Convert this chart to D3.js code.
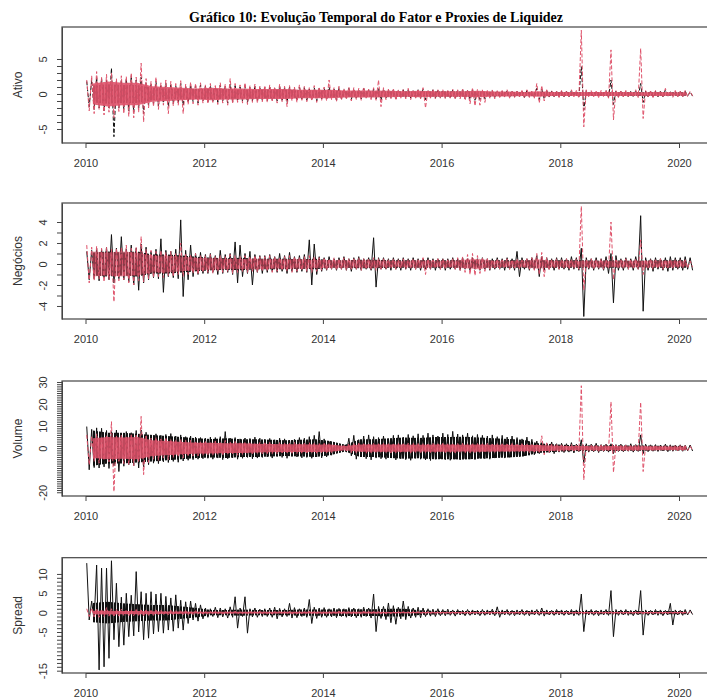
<!DOCTYPE html>
<html>
<head>
<meta charset="utf-8">
<script src="https://cdn.jsdelivr.net/npm/d3@7"></script>
<style>
body { margin: 0; background: #fff; }
svg text { font-family: "Liberation Sans", Arial, sans-serif; fill: #333; }
.title { font-family: "Liberation Serif", "Times New Roman", serif; font-weight: bold; fill: #000; }
</style>
</head>
<body>
<div id="chart"></div>
<script>
// monthly high / low readings, Jan 2010 .. Mar 2020 (123 months)
// quarterly half-width of the dense core, 2010Q1 .. 2020Q1 (41 quarters)
const startYear = 2010;
const xTicks = [2010, 2012, 2014, 2016, 2018, 2020];
const panelNames = ["Ativo", "Negócios", "Volume", "Spread"];

// Ativo
const ativoBlackHi = [1.8,2.0,2.4,2.2,2.0,3.7,1.8,2.0,2.2,2.6,2.0,2.4, 1.6,1.5,1.8,1.3,1.5,1.4,1.2,1.5,1.1,1.3,1.2,1.3, 1.1,1.2,1.0,1.3,1.1,1.4,1.2,1.0,1.2,1.0,1.1,0.9, 1.0,1.0,0.8,1.1,0.9,1.0,0.8,1.0,0.9,0.7,0.9,0.8, 0.8,1.0,0.7,0.9,0.6,0.8,0.7,0.6,0.8,0.6,0.7,0.8, 0.7,0.6,0.6,0.5,0.6,0.6,0.5,0.6,0.7,0.5,0.6,0.5, 0.5,0.4,0.6,0.5,0.6,0.5,0.6,0.5,0.5,0.4,0.5,0.4, 0.4,0.5,0.4,0.4,0.4,0.5,0.4,0.8,0.7,0.5,0.4,0.4, 0.4,0.4,0.5,0.4,3.9,0.5,0.4,0.4,0.4,0.5,2.0,0.4, 0.4,0.4,0.4,0.5,1.5,0.4,0.4,0.4,0.4,0.6,0.4,0.4, 0.4,0.4,0.3];
const ativoBlackLo = [-1.8,-2.2,-2.0,-2.4,-2.0,-6.1,-2.0,-2.2,-2.4,-2.6,-2.0,-2.8, -1.6,-1.4,-1.7,-1.3,-1.8,-1.4,-1.3,-1.6,-1.2,-1.1,-1.3,-1.0, -1.1,-1.0,-1.2,-1.0,-1.3,-1.1,-1.0,-1.0,-1.2,-1.0,-1.0,-0.9, -1.0,-0.8,-1.0,-0.9,-1.2,-0.8,-1.0,-0.7,-0.9,-0.8,-1.0,-0.7, -0.8,-0.6,-0.9,-0.7,-0.6,-0.8,-0.6,-0.7,-0.6,-0.6,-0.7,-0.9, -0.6,-0.5,-0.7,-0.5,-0.6,-0.6,-0.5,-0.6,-0.8,-0.5,-0.6,-0.5, -0.5,-0.5,-0.6,-0.5,-0.7,-0.8,-0.9,-0.8,-0.7,-0.5,-0.5,-0.4, -0.4,-0.5,-0.4,-0.4,-0.5,-0.4,-0.5,-0.8,-0.7,-0.4,-0.4,-0.4, -0.4,-0.4,-0.4,-0.5,-2.3,-0.4,-0.4,-0.4,-0.4,-0.5,-1.5,-0.4, -0.4,-0.4,-0.4,-0.4,-1.2,-0.4,-0.4,-0.4,-0.4,-0.4,-0.4,-0.4, -0.4,-0.3,-0.3];
const ativoRedHi = [2.0,2.6,3.2,2.4,2.8,3.0,2.2,2.6,2.5,3.0,2.4,4.4, 2.2,1.8,2.4,1.6,2.0,1.8,1.5,1.9,1.4,1.7,1.5,1.6, 1.3,1.5,1.2,1.6,1.4,2.2,1.5,1.3,1.6,1.2,1.4,1.1, 1.2,1.3,1.0,1.4,1.1,1.2,1.0,1.3,1.1,0.9,1.2,1.0, 1.0,2.0,0.9,1.1,0.8,1.0,0.9,0.8,1.0,0.7,0.9,2.0, 0.9,0.7,0.8,0.6,0.7,0.8,0.6,0.7,0.9,0.6,0.7,0.6, 0.6,0.5,0.7,0.6,0.8,0.6,0.9,0.7,0.6,0.5,0.6,0.5, 0.5,0.6,0.5,0.4,0.5,0.6,0.5,1.5,1.2,0.6,0.5,0.4, 0.5,0.4,0.6,0.5,9.1,0.6,0.5,0.4,0.5,0.6,6.3,0.5, 0.4,0.5,0.4,0.6,6.5,0.5,0.4,0.5,0.4,0.8,0.4,0.5, 0.4,0.5,0.4];
const ativoRedLo = [-2.4,-2.8,-2.2,-3.0,-2.6,-3.4,-2.5,-2.8,-3.2,-3.4,-2.6,-4.0, -2.0,-1.8,-2.2,-1.6,-2.8,-1.7,-1.6,-2.8,-1.5,-1.4,-1.6,-1.3, -1.4,-1.2,-1.5,-1.3,-1.6,-1.4,-1.2,-1.3,-1.5,-1.2,-1.3,-1.1, -1.2,-1.0,-1.3,-1.1,-1.8,-1.0,-1.2,-0.9,-1.1,-1.0,-1.2,-0.9, -1.0,-0.8,-1.1,-0.9,-0.8,-1.0,-0.8,-0.9,-0.7,-0.8,-0.9,-1.8, -0.8,-0.7,-0.9,-0.6,-0.7,-0.8,-0.6,-0.7,-2.0,-0.6,-0.7,-0.6, -0.7,-0.6,-0.8,-0.7,-0.9,-1.4,-1.7,-1.6,-1.2,-0.6,-0.7,-0.5, -0.5,-0.6,-0.5,-0.4,-0.6,-0.5,-0.6,-1.3,-1.0,-0.5,-0.4,-0.5, -0.4,-0.5,-0.4,-0.6,-4.7,-0.5,-0.4,-0.5,-0.4,-0.6,-3.7,-0.5, -0.4,-0.5,-0.4,-0.5,-3.5,-0.4,-0.5,-0.4,-0.5,-0.4,-0.5,-0.4, -0.4,-0.4,-0.3];
const ativoBlackCore = [1.2,1.4,1.3,1.3, 0.9,0.8,0.7,0.7, 0.7,0.7,0.6,0.6, 0.6,0.6,0.5,0.5, 0.5,0.4,0.4,0.4, 0.4,0.35,0.35,0.35, 0.35,0.35,0.35,0.3, 0.3,0.3,0.3,0.3, 0.3,0.3,0.3,0.3, 0.3,0.25,0.25,0.25, 0.25];
const ativoRedCore = [1.5,1.8,1.6,1.6, 1.1,1.0,0.9,0.8, 0.9,0.8,0.8,0.7, 0.7,0.7,0.6,0.6, 0.6,0.5,0.5,0.5, 0.45,0.4,0.45,0.4, 0.4,0.4,0.45,0.35, 0.35,0.3,0.4,0.3, 0.3,0.3,0.3,0.3, 0.3,0.25,0.3,0.25, 0.25];

// Negócios
const negBlackHi = [1.2,1.3,1.5,1.4,1.6,2.8,1.5,2.6,1.4,1.8,1.5,1.9, 1.6,1.2,1.4,2.4,1.3,1.2,1.4,4.2,1.3,1.8,1.0,1.1, 0.9,1.0,0.8,1.3,0.9,1.0,2.1,1.8,1.0,1.2,0.9,0.8, 0.8,0.9,0.7,1.0,0.8,1.1,0.7,0.8,0.9,2.3,1.9,0.7, 0.6,0.7,0.5,0.6,0.7,0.5,0.6,0.7,0.5,0.6,2.5,0.6, 0.6,0.5,0.6,0.5,0.6,0.5,0.6,0.5,0.5,0.6,0.5,0.5, 0.5,0.5,0.6,0.5,0.6,0.5,0.6,0.5,0.6,0.5,0.5,0.6, 0.5,0.6,0.5,1.2,0.6,0.5,0.6,0.8,0.7,0.6,0.5,0.6, 0.6,0.5,0.7,0.6,1.5,0.6,0.5,0.6,0.5,0.7,1.0,0.8, 0.5,0.6,0.5,0.7,4.6,0.6,0.5,0.6,0.5,0.6,0.7,0.6, 0.6,0.7,0.6];
const negBlackLo = [-1.5,-1.4,-1.6,-1.3,-1.5,-1.8,-1.4,-1.5,-1.7,-2.0,-2.5,-1.8, -1.5,-1.3,-1.4,-2.7,-1.2,-1.3,-1.4,-3.1,-1.5,-1.2,-1.0,-0.9, -0.9,-0.8,-1.0,-0.9,-0.8,-1.0,-1.8,-1.2,-0.9,-2.0,-0.8,-0.9, -0.8,-0.7,-0.8,-0.7,-0.9,-0.7,-0.8,-0.7,-0.8,-2.0,-1.0,-0.7, -0.6,-0.5,-0.6,-0.5,-0.6,-0.7,-0.5,-0.6,-0.5,-0.6,-2.2,-0.5, -0.5,-0.6,-0.5,-0.6,-0.5,-0.6,-0.5,-0.6,-0.5,-0.5,-0.6,-0.5, -0.6,-0.5,-0.5,-0.6,-0.5,-0.6,-0.5,-0.6,-0.5,-0.6,-0.5,-0.5, -0.6,-0.5,-0.6,-1.2,-0.5,-0.6,-0.5,-1.2,-0.6,-0.5,-0.6,-0.5, -0.5,-0.6,-0.5,-0.6,-5.0,-0.5,-0.6,-0.5,-0.6,-0.9,-3.7,-0.6, -0.6,-0.5,-0.6,-0.5,-4.5,-0.6,-0.7,-0.5,-0.6,-0.7,-0.6,-0.5, -0.6,-0.5,-0.6];
const negRedHi = [1.8,1.6,1.7,1.5,1.6,1.4,1.5,1.6,1.8,1.5,1.6,2.6, 1.4,1.3,1.2,1.3,1.1,1.2,1.0,2.0,1.0,0.9,1.0,0.8, 0.8,0.9,0.7,0.8,0.7,0.9,0.8,0.7,0.8,0.7,0.8,0.7, 0.7,0.8,0.7,0.6,0.7,0.8,0.7,0.6,0.7,0.8,0.7,0.6, 0.6,0.5,0.6,0.5,0.6,0.5,0.5,0.6,0.5,0.5,0.6,0.5, 0.5,0.4,0.5,0.4,0.5,0.4,0.5,0.4,0.6,0.5,0.4,0.5, 0.5,0.4,0.5,0.6,0.7,0.9,1.0,0.8,0.6,0.5,0.4,0.5, 0.4,0.5,0.4,0.5,0.4,0.5,0.6,1.0,1.1,0.6,0.4,0.5, 0.4,0.5,0.4,0.5,5.5,0.4,0.5,0.4,0.5,0.4,4.0,0.4, 0.4,0.5,0.4,0.5,2.3,0.4,0.5,0.4,0.5,0.4,0.4,0.4, 0.4,0.4,0.3];
const negRedLo = [-1.8,-1.6,-1.4,-1.7,-1.5,-3.6,-1.6,-1.5,-1.8,-2.0,-1.6,-1.7, -1.4,-1.3,-1.2,-1.3,-1.1,-1.2,-1.0,-1.2,-1.0,-0.9,-1.0,-0.8, -0.8,-0.9,-0.7,-0.8,-0.7,-0.9,-0.8,-0.7,-0.8,-0.7,-0.8,-0.7, -0.7,-0.8,-0.7,-0.6,-0.7,-0.8,-0.7,-0.6,-0.7,-0.8,-0.7,-0.6, -0.6,-0.5,-0.6,-0.5,-0.6,-0.5,-0.5,-0.6,-0.5,-0.5,-0.6,-0.5, -0.5,-0.4,-0.5,-0.4,-0.5,-0.4,-0.5,-0.4,-1.0,-0.5,-0.4,-0.5, -0.5,-0.4,-0.5,-0.6,-0.8,-1.0,-1.1,-0.9,-0.7,-0.5,-0.4,-0.5, -0.4,-0.5,-0.4,-0.5,-0.4,-0.5,-0.6,-1.0,-1.2,-0.6,-0.4,-0.5, -0.4,-0.5,-0.4,-0.5,-2.5,-0.4,-0.5,-0.4,-0.5,-0.4,-1.5,-0.4, -0.4,-0.5,-0.4,-0.5,-1.0,-0.4,-0.5,-0.4,-0.5,-0.4,-0.4,-0.4, -0.4,-0.4,-0.3];
const negBlackCore = [1.1,1.2,1.1,1.2, 0.9,0.9,0.8,0.7, 0.6,0.55,0.6,0.5, 0.5,0.5,0.45,0.5, 0.35,0.35,0.4,0.4, 0.35,0.35,0.35,0.35, 0.35,0.35,0.35,0.35, 0.35,0.35,0.35,0.35, 0.35,0.35,0.3,0.35, 0.3,0.3,0.35,0.35, 0.35];
const negRedCore = [1.2,1.1,1.2,1.1, 0.8,0.8,0.7,0.6, 0.55,0.5,0.5,0.5, 0.45,0.45,0.45,0.4, 0.35,0.35,0.35,0.35, 0.3,0.3,0.35,0.3, 0.3,0.4,0.5,0.3, 0.3,0.3,0.45,0.3, 0.3,0.3,0.3,0.3, 0.3,0.3,0.3,0.3, 0.25];

// Volume
const volBlackHi = [9.8,8.5,9.2,9.0,8.0,7.5,8.2,6.8,7.5,7.0,8.0,8.2, 7.2,6.0,6.5,5.8,6.2,6.6,5.5,6.0,5.2,5.5,5.0,4.8, 4.5,5.0,4.8,5.2,7.5,4.6,4.8,4.2,4.6,4.4,5.0,4.5, 4.0,4.4,3.8,4.5,4.2,3.6,4.0,4.8,4.5,5.2,5.8,7.5, 4.2,3.0,2.2,1.2,1.5,4.5,5.8,3.8,5.5,6.0,5.2,4.8, 5.5,4.2,5.8,6.0,5.0,6.2,5.6,6.5,5.8,6.8,6.0,5.5, 6.8,6.2,7.6,6.4,6.0,6.8,5.6,6.2,5.8,5.5,6.0,5.2, 5.8,5.0,5.5,4.8,4.2,5.0,4.0,3.2,2.5,2.2,2.8,2.0, 2.2,2.0,2.5,1.8,3.8,2.0,1.8,2.2,1.6,1.8,2.0,1.6, 1.8,1.5,2.0,1.6,6.0,1.8,1.5,1.6,1.4,1.8,1.5,1.4, 1.5,1.3,1.4];
const volBlackLo = [-9.8,-8.8,-9.0,-8.5,-9.2,-8.0,-10.6,-8.2,-7.5,-8.0,-9.0,-8.5, -7.5,-6.8,-7.0,-6.2,-6.5,-6.0,-6.4,-5.8,-5.5,-5.2,-5.0,-4.8, -4.6,-5.0,-4.5,-5.2,-4.8,-4.4,-5.0,-4.6,-4.2,-4.8,-4.5,-4.2, -4.0,-4.5,-3.8,-4.2,-4.6,-3.8,-4.0,-4.4,-4.2,-4.6,-4.0,-4.4, -4.0,-3.2,-2.0,-1.2,-1.8,-3.5,-5.0,-3.2,-4.8,-5.3,-4.5,-4.8, -5.0,-4.0,-5.3,-4.8,-5.2,-5.5,-4.6,-5.0,-5.3,-5.6,-5.0,-4.8, -5.2,-5.5,-5.0,-5.3,-4.8,-5.0,-5.2,-4.6,-4.8,-5.0,-4.5,-4.2, -4.5,-4.2,-4.0,-3.8,-3.5,-3.2,-3.0,-2.5,-2.2,-2.0,-2.5,-1.8, -2.0,-1.8,-2.2,-1.6,-6.8,-1.8,-1.6,-2.0,-1.5,-1.8,-2.5,-1.5, -1.6,-1.4,-1.8,-1.5,-2.5,-1.6,-1.4,-1.5,-1.3,-1.6,-1.4,-1.3, -1.4,-1.2,-1.3];
const volRedHi = [6.0,5.5,6.5,5.0,5.8,12.0,5.5,6.0,5.2,6.5,5.8,14.4, 6.0,4.5,5.0,4.2,4.8,4.0,3.8,4.2,3.5,3.6,3.2,3.0, 3.0,2.8,3.2,2.6,3.5,2.8,3.0,2.5,2.8,2.6,2.4,2.6, 2.4,2.6,2.2,2.5,2.3,2.2,2.6,2.4,2.2,2.5,2.3,2.1, 2.2,2.0,1.5,1.0,1.2,2.0,2.4,2.2,2.0,2.3,2.1,2.0, 2.2,2.0,2.3,2.1,2.0,2.2,2.4,2.1,2.0,2.2,2.3,2.0, 2.2,2.0,2.3,2.1,2.2,2.0,2.4,2.1,2.0,2.2,1.9,2.0, 2.0,1.9,2.1,1.8,2.0,1.9,1.8,2.0,5.6,2.4,1.8,1.6, 1.5,1.4,1.6,1.4,28.3,1.5,1.4,1.3,1.4,1.5,21.0,1.4, 1.3,1.4,1.2,1.4,20.8,1.3,1.2,1.4,1.2,1.3,1.2,1.1, 1.2,1.1,1.0];
const volRedLo = [-7.5,-6.0,-6.8,-5.5,-6.2,-19.7,-6.0,-7.0,-7.5,-8.0,-6.5,-12.0, -6.5,-5.0,-5.5,-4.5,-5.2,-4.2,-4.0,-4.5,-3.8,-3.6,-3.5,-3.2, -3.0,-3.2,-2.8,-3.4,-3.0,-2.6,-3.2,-2.8,-2.6,-3.0,-2.5,-2.6, -2.5,-2.4,-2.6,-2.2,-2.5,-2.3,-2.4,-2.6,-2.2,-2.4,-2.3,-2.2, -2.2,-2.0,-1.5,-1.0,-1.3,-2.0,-2.2,-2.0,-2.3,-2.1,-2.0,-2.2, -2.0,-2.2,-2.1,-2.3,-2.0,-2.2,-2.0,-2.4,-2.1,-2.0,-2.2,-2.0, -2.1,-2.0,-2.2,-2.0,-2.3,-2.1,-2.0,-2.2,-2.0,-1.9,-2.0,-1.8, -1.9,-2.0,-1.8,-1.9,-1.8,-2.0,-1.8,-1.9,-3.0,-2.0,-1.6,-1.5, -1.4,-1.5,-1.3,-1.4,-14.4,-1.4,-1.3,-1.4,-1.3,-1.4,-11.0,-1.3, -1.2,-1.3,-1.2,-1.3,-10.6,-1.2,-1.3,-1.2,-1.1,-1.2,-1.1,-1.2, -1.1,-1.0,-1.0];
const volBlackCore = [8,7,7,6.5, 6,5.5,5,4.5, 4.2,4.5,4,4, 3.8,3.6,3.8,4, 3.2,1.5,4,4, 4.5,4.8,4.6,5, 5,5.2,4.8,4.5, 4.2,3.8,2.2,1.8, 1.4,1.3,1.2,1.3, 1.2,1.2,1.1,1.1, 1.0];
const volRedCore = [4.5,5,4.8,5, 3.6,3.2,2.8,2.5, 2.4,2.2,2.2,2.0, 1.9,1.8,1.8,1.7, 1.6,1.0,1.6,1.6, 1.6,1.6,1.5,1.6, 1.6,1.5,1.6,1.5, 1.5,1.4,1.4,1.2, 1.0,1.0,0.9,1.0, 0.9,0.9,0.9,0.8, 0.8];

// Spread
const sprBlackHi = [12.8,3.0,12.3,11.5,11.5,13.4,7.6,4.0,5.0,4.5,10.6,5.4, 5.0,5.4,4.8,5.0,4.2,3.8,4.6,3.2,2.8,3.0,2.4,2.0, 1.2,1.0,1.4,1.2,1.0,1.5,4.1,1.2,4.1,1.0,1.2,0.9, 1.0,1.2,1.4,1.1,1.0,2.4,1.3,1.0,1.2,3.4,1.4,1.2, 1.3,1.0,1.2,1.1,1.0,1.3,1.2,1.0,1.4,1.2,4.8,1.6, 1.6,2.5,1.8,1.4,3.0,1.6,1.2,1.4,1.2,1.0,0.9,1.0, 0.8,0.9,0.7,0.8,0.6,0.8,0.7,0.6,0.8,0.7,0.9,1.5, 0.7,0.8,0.6,0.7,0.8,0.6,0.7,0.8,1.2,0.7,0.6,0.8, 0.7,0.6,0.8,0.7,4.8,0.7,0.8,0.6,0.7,0.8,5.7,0.8, 0.7,0.8,0.6,0.7,5.7,0.7,0.6,0.8,0.7,0.6,2.4,0.7, 0.6,0.8,0.7];
const sprBlackLo = [-1.9,-2.0,-14.8,-14.0,-11.8,-7.0,-8.8,-8.4,-6.2,-6.0,-5.0,-7.0, -6.6,-5.5,-4.9,-5.3,-4.5,-4.8,-4.0,-4.5,-2.8,-1.9,-2.2,-1.6, -1.2,-1.0,-1.3,-1.1,-1.4,-1.2,-4.0,-1.0,-5.3,-1.1,-1.2,-1.0, -1.0,-1.2,-1.6,-1.1,-1.0,-1.4,-1.3,-1.0,-1.2,-2.8,-1.5,-1.2, -1.2,-1.1,-1.3,-1.0,-1.2,-1.1,-1.3,-1.2,-1.0,-1.4,-4.9,-1.5, -1.8,-2.6,-3.0,-1.6,-1.8,-1.4,-1.2,-1.3,-1.0,-0.9,-1.0,-0.8, -0.8,-0.7,-0.9,-0.6,-0.8,-0.7,-0.6,-0.8,-0.7,-0.6,-0.8,-1.2, -0.6,-0.7,-0.8,-0.6,-0.7,-0.8,-0.6,-0.7,-0.9,-0.6,-0.7,-0.6, -0.7,-0.6,-0.8,-0.7,-4.9,-0.6,-0.7,-0.8,-0.6,-0.7,-6.2,-0.7, -0.6,-0.7,-0.8,-0.6,-5.8,-0.7,-0.6,-0.7,-0.8,-0.6,-3.2,-0.6, -0.7,-0.6,-0.5];
const sprRedHi = [1.0,1.2,1.1,0.9,1.3,1.0,0.8,0.9,0.8,0.7,0.8,0.7, 0.7,0.6,0.7,0.6,0.5,0.6,0.5,0.6,0.5,0.4,0.5,0.4, 0.4,0.3,0.4,0.3,0.4,0.3,0.4,0.3,0.4,0.3,0.3,0.4, 0.3,0.3,0.4,0.3,0.3,0.3,0.4,0.3,0.3,0.4,0.3,0.3, 0.3,0.3,0.3,0.4,0.3,0.3,0.3,0.3,0.4,0.3,0.3,0.3, 0.3,0.3,0.3,0.3,0.3,0.2,0.3,0.3,0.2,0.3,0.2,0.3, 0.2,0.2,0.3,0.2,0.2,0.2,0.3,0.2,0.2,0.2,0.3,0.2, 0.2,0.2,0.2,0.3,0.2,0.2,0.2,0.2,0.3,0.2,0.2,0.2, 0.2,0.2,0.2,0.2,0.3,0.2,0.2,0.2,0.2,0.2,0.3,0.2, 0.2,0.2,0.2,0.2,0.3,0.2,0.2,0.2,0.2,0.2,0.2,0.2, 0.2,0.2,0.2];
const sprRedLo = [-1.0,-1.1,-1.2,-1.0,-0.9,-1.1,-0.9,-0.8,-0.9,-0.8,-0.7,-0.8, -0.7,-0.7,-0.6,-0.6,-0.6,-0.5,-0.6,-0.5,-0.5,-0.5,-0.4,-0.4, -0.4,-0.4,-0.3,-0.4,-0.3,-0.4,-0.4,-0.3,-0.4,-0.3,-0.4,-0.3, -0.3,-0.4,-0.3,-0.3,-0.3,-0.4,-0.3,-0.3,-0.4,-0.3,-0.3,-0.3, -0.3,-0.3,-0.4,-0.3,-0.3,-0.3,-0.3,-0.4,-0.3,-0.3,-0.3,-0.3, -0.3,-0.3,-0.3,-0.2,-0.3,-0.3,-0.2,-0.3,-0.3,-0.2,-0.3,-0.2, -0.2,-0.3,-0.2,-0.2,-0.2,-0.3,-0.2,-0.2,-0.2,-0.3,-0.2,-0.2, -0.2,-0.2,-0.3,-0.2,-0.2,-0.2,-0.2,-0.3,-0.2,-0.2,-0.2,-0.2, -0.2,-0.2,-0.2,-0.2,-0.3,-0.2,-0.2,-0.2,-0.2,-0.2,-0.3,-0.2, -0.2,-0.2,-0.2,-0.2,-0.3,-0.2,-0.2,-0.2,-0.2,-0.2,-0.2,-0.2, -0.2,-0.2,-0.2];
const sprBlackCore = [2.5,2.8,2.4,2.2, 2.0,2.0,1.6,1.2, 0.7,0.7,0.8,0.7, 0.7,0.7,0.8,0.8, 0.8,0.9,0.9,0.9, 1.0,1.0,0.6,0.5, 0.4,0.4,0.4,0.4, 0.4,0.4,0.4,0.4, 0.4,0.4,0.4,0.4, 0.4,0.4,0.4,0.4, 0.4];
const sprRedCore = [0.5,0.5,0.4,0.4, 0.35,0.3,0.3,0.25, 0.2,0.2,0.2,0.2, 0.2,0.2,0.2,0.2, 0.2,0.2,0.2,0.2, 0.15,0.15,0.15,0.15, 0.15,0.15,0.15,0.15, 0.15,0.15,0.15,0.15, 0.15,0.15,0.15,0.15, 0.15,0.15,0.15,0.15, 0.15];

// y axes: tick range, labelled ticks, visible domain
const ativoTicks = [-5, 5], ativoLabels = [-5, 0, 5], ativoDomain = [-7, 9.57];
const negTicks = [-4, 4], negLabels = [-4, -2, 0, 2, 4], negDomain = [-5.24, 5.81];
const volTicks = [-20, 30], volLabels = [-20, 0, 10, 20, 30], volDomain = [-21.7, 30.45];
const sprTicks = [-15, 10], sprLabels = [-15, -5, 0, 5, 10], sprDomain = [-15.6, 14.2];

const width = 707, height = 699;
const left = 62, right = 712;
const boxes = [[27, 143], [203, 319], [381, 496], [557.7, 673]];
const red = "#DF536B";

const panels = [
	{name: panelNames[0], black: [ativoBlackHi, ativoBlackLo], red: [ativoRedHi, ativoRedLo], blackCore: ativoBlackCore, redCore: ativoRedCore, ticks: ativoTicks, labels: ativoLabels, domain: ativoDomain, blackDash: "4,2", redFill: 0.9},
	{name: panelNames[1], black: [negBlackHi, negBlackLo], red: [negRedHi, negRedLo], blackCore: negBlackCore, redCore: negRedCore, ticks: negTicks, labels: negLabels, domain: negDomain, blackDash: null, redFill: 0.6},
	{name: panelNames[2], black: [volBlackHi, volBlackLo], red: [volRedHi, volRedLo], blackCore: volBlackCore, redCore: volRedCore, ticks: volTicks, labels: volLabels, domain: volDomain, blackDash: null, redFill: 0.85},
	{name: panelNames[3], black: [sprBlackHi, sprBlackLo], red: [sprRedHi, sprRedLo], blackCore: sprBlackCore, redCore: sprRedCore, ticks: sprTicks, labels: sprLabels, domain: sprDomain, blackDash: null, redFill: 0.9}
];

const svg = d3.select("#chart").append("svg")
	.attr("width", width)
	.attr("height", height);

// vertical hatching so the black core reads as many thin lines
svg.append("defs")
	.append("pattern")
	.attr("id", "hatch")
	.attr("patternUnits", "userSpaceOnUse")
	.attr("width", 3)
	.attr("height", 4)
	.append("rect")
	.attr("width", 2)
	.attr("height", 4)
	.attr("fill", "#111");

svg.append("text")
	.attr("class", "title")
	.attr("x", 376)
	.attr("y", 22)
	.attr("text-anchor", "middle")
	.style("font-size", "14px")
	.text("Gráfico 10: Evolução Temporal do Fator e Proxies de Liquidez");

const xscale = d3.scaleLinear()
	.domain([2010, 2020])
	.range([85.5, 679]);

// hi / lo pairs become a zig-zag path, two vertices per month
function toPoints(pair) {
	const pts = [];
	pair[0].forEach(function(hi, i) {
		pts.push({t: startYear + (i + 0.25) / 12, v: hi});
		pts.push({t: startYear + (i + 0.75) / 12, v: pair[1][i]});
	});
	return pts;
}

function corePoints(core) {
	return core.map((c, q) => ({t: startYear + (q * 3 + 1.5) / 12, c: c}));
}

panels.forEach(function(p, k) {
	const top = boxes[k][0], bottom = boxes[k][1];
	const yscale = d3.scaleLinear().domain(p.domain).range([bottom, top]);
	const g = svg.append("g");

	g.append("clipPath")
		.attr("id", "clip" + k)
		.append("rect")
		.attr("x", left)
		.attr("y", top)
		.attr("width", right - left)
		.attr("height", bottom - top);

	const line = d3.line().x(d => xscale(d.t)).y(d => yscale(d.v));
	const band = d3.area().x(d => xscale(d.t)).y0(d => yscale(-d.c)).y1(d => yscale(d.c));
	const plot = g.append("g").attr("clip-path", "url(#clip" + k + ")");

	plot.append("path")
		.attr("d", band(corePoints(p.blackCore)))
		.attr("fill", "url(#hatch)");

	plot.append("path")
		.attr("d", line(toPoints(p.black)))
		.attr("fill", "none")
		.attr("stroke", "#111")
		.attr("stroke-width", 1)
		.attr("stroke-dasharray", p.blackDash);

	plot.append("path")
		.attr("d", band(corePoints(p.redCore)))
		.attr("fill", red)
		.attr("fill-opacity", p.redFill);

	plot.append("path")
		.attr("d", line(toPoints(p.red)))
		.attr("fill", "none")
		.attr("stroke", red)
		.attr("stroke-width", 1)
		.attr("stroke-dasharray", "4,2");

	// box
	g.append("rect")
		.attr("x", left)
		.attr("y", top)
		.attr("width", right - left)
		.attr("height", bottom - top)
		.attr("fill", "none")
		.attr("stroke", "#444")
		.attr("stroke-width", 1.2);

	// x axis
	const x_axis = d3.axisBottom(xscale)
		.tickValues(xTicks)
		.tickFormat(d3.format("d"))
		.tickSize(5)
		.tickSizeOuter(0);
	const xg = g.append("g")
		.attr("transform", "translate(0," + bottom + ")")
		.call(x_axis);
	xg.select(".domain").attr("stroke", "#444");
	xg.selectAll(".tick line").attr("stroke", "#444");
	xg.selectAll(".tick text")
		.attr("dy", null)
		.attr("y", 24)
		.style("font-size", "11px")
		.style("font-family", "Liberation Sans, Arial, sans-serif")
		.attr("fill", "#333");

	// y axis: a tick on every integer, labels on some
	const all = d3.range(p.ticks[0], p.ticks[1] + 1);
	const y_axis = d3.axisLeft(yscale)
		.tickValues(all)
		.tickFormat(d => p.labels.indexOf(d) >= 0 ? d : "")
		.tickSize(5)
		.tickSizeOuter(0);
	const yg = g.append("g")
		.attr("transform", "translate(" + left + ",0)")
		.call(y_axis);
	yg.select(".domain").attr("stroke", "#444");
	yg.selectAll(".tick line").attr("stroke", "#444");
	yg.selectAll(".tick text")
		.attr("x", null)
		.attr("dy", null)
		.attr("text-anchor", "middle")
		.attr("transform", "translate(-19,0) rotate(-90)")
		.attr("y", 4)
		.style("font-size", "11px")
		.style("font-family", "Liberation Sans, Arial, sans-serif")
		.attr("fill", "#333");

	g.append("text")
		.attr("transform", "translate(22," + ((top + bottom) / 2) + ") rotate(-90)")
		.attr("text-anchor", "middle")
		.style("font-size", "12px")
		.text(p.name);
});
</script>
</body>
</html>
